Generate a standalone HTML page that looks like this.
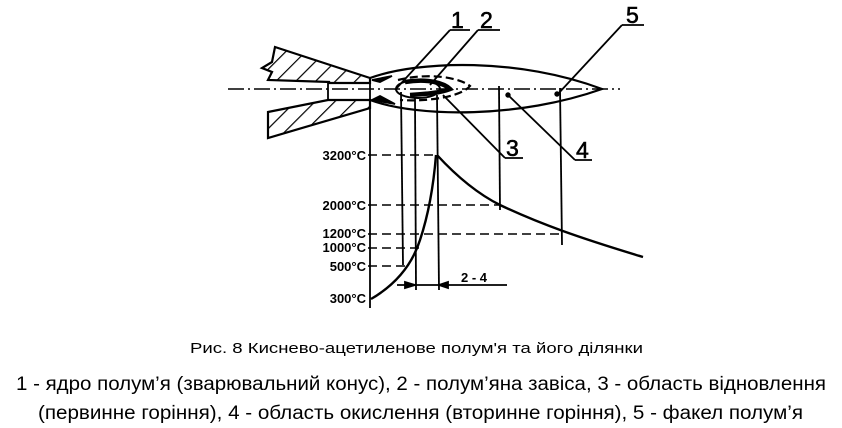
<!DOCTYPE html>
<html><head><meta charset="utf-8"><style>
html,body{margin:0;padding:0;background:#fff;width:842px;height:428px;overflow:hidden}
svg{display:block}
</style></head><body>
<svg width="842" height="428" viewBox="0 0 842 428" xmlns="http://www.w3.org/2000/svg">
<defs>
<pattern id="h" patternUnits="userSpaceOnUse" width="14" height="14" patternTransform="rotate(45)">
<rect width="14" height="14" fill="#fff"/><line x1="0" y1="0" x2="0" y2="14" stroke="#000" stroke-width="2.4"/>
</pattern>
</defs>
<g stroke="#000" fill="none" stroke-width="1.8">
<path d="M275,47 L370,78 L370,83 L328,83 L330,82 L268,80 L272,72 L262,68 L272,62 Z" fill="url(#h)" stroke-width="2.2"/>
<path d="M268,112 L328,100 L370,100 L370,108 L268,138 Z" fill="url(#h)" stroke-width="2.2"/>
<line x1="328" y1="83" x2="328" y2="100"/>
<line x1="228" y1="89" x2="620" y2="89" stroke-dasharray="16,4,2,4" stroke-width="1.5"/>
<path d="M370,78 C420,60 520,58 602,89 C520,118 420,118 370,100" stroke-width="2.2"/>
<path d="M372,80 L392,76 L380,82 Z" fill="#000"/>
<path d="M372,100 L395,104 L380,96 Z" fill="#000"/>
<ellipse cx="418" cy="89" rx="22" ry="9" stroke-width="2"/>
<path d="M405,82 C430,78 445,84 450,89 C440,93 425,94 410,95" stroke-width="4.5"/>
<path d="M398,80 C430,72 460,78 470,86 C462,96 430,102 400,100" stroke-dasharray="8,4" stroke-width="2.2"/>
<line x1="470" y1="30" x2="450" y2="30"/><line x1="450" y1="30" x2="395" y2="90"/>
<line x1="500" y1="30" x2="478" y2="30"/><line x1="478" y1="30" x2="430" y2="85"/>
<line x1="644" y1="25" x2="622" y2="25"/><line x1="622" y1="25" x2="557" y2="95"/>
<line x1="443" y1="95" x2="505" y2="158"/><line x1="505" y1="158" x2="523" y2="158"/>
<line x1="508" y1="95" x2="575" y2="160"/><line x1="575" y1="160" x2="592" y2="160"/>
<circle cx="508" cy="95" r="1.8" fill="#000"/><circle cx="557" cy="94" r="1.8" fill="#000"/>
<line x1="370" y1="78" x2="370" y2="308"/>
<line x1="401" y1="92" x2="403" y2="265"/>
<line x1="415" y1="98" x2="416" y2="290"/>
<line x1="437" y1="95" x2="439" y2="290"/>
<line x1="499" y1="86" x2="500" y2="210"/>
<line x1="560" y1="88" x2="562" y2="245"/>
<g stroke-dasharray="9,5" stroke-width="1.6">
<line x1="368" y1="155" x2="437" y2="155"/>
<line x1="368" y1="205" x2="500" y2="205"/>
<line x1="368" y1="234" x2="562" y2="234"/>
<line x1="368" y1="248" x2="420" y2="248"/>
<line x1="368" y1="266" x2="410" y2="266"/>
</g>
<path d="M371,299 C395,285 412,265 420,240 C430,210 434,180 436,155" stroke-width="2.4"/>
<path d="M437,155 C460,180 480,195 500,205 C540,224 580,238 643,257" stroke-width="2.4"/>
<line x1="397" y1="285" x2="507" y2="285"/>
<path d="M405,282 L415,285 L405,288 Z M448,282 L439,285 L448,288 Z" fill="#000"/>
</g>
<g font-family="Liberation Sans, sans-serif" fill="#000">
<g font-size="23" stroke="#000" stroke-width="0.6">
<text x="451" y="28">1</text>
<text x="480" y="28">2</text>
<text x="626" y="23">5</text>
<text x="506" y="156">3</text>
<text x="576" y="158">4</text>
</g>
<g font-size="13" text-anchor="end" font-weight="bold" font-family="Liberation Sans Narrow, Liberation Sans, sans-serif">
<text x="366" y="160">3200°C</text>
<text x="366" y="210">2000°C</text>
<text x="366" y="238">1200°C</text>
<text x="366" y="252">1000°C</text>
<text x="366" y="271">500°C</text>
<text x="366" y="303">300°C</text>
</g>
<text x="461" y="282" font-size="13" font-weight="bold">2 - 4</text>
<text x="190" y="353" font-size="15" textLength="453" lengthAdjust="spacingAndGlyphs">Рис. 8 Киснево-ацетиленове полум'я та його ділянки</text>
<text x="16" y="390" font-size="19" textLength="810" lengthAdjust="spacingAndGlyphs">1 - ядро полум’я (зварювальний конус), 2 -  полум’яна завіса, 3 - область відновлення</text>
<text x="38" y="419" font-size="19" textLength="765" lengthAdjust="spacingAndGlyphs">(первинне горіння), 4 - область окислення  (вторинне горіння), 5 - факел полум’я</text>
</g>
</svg>
</body></html>
